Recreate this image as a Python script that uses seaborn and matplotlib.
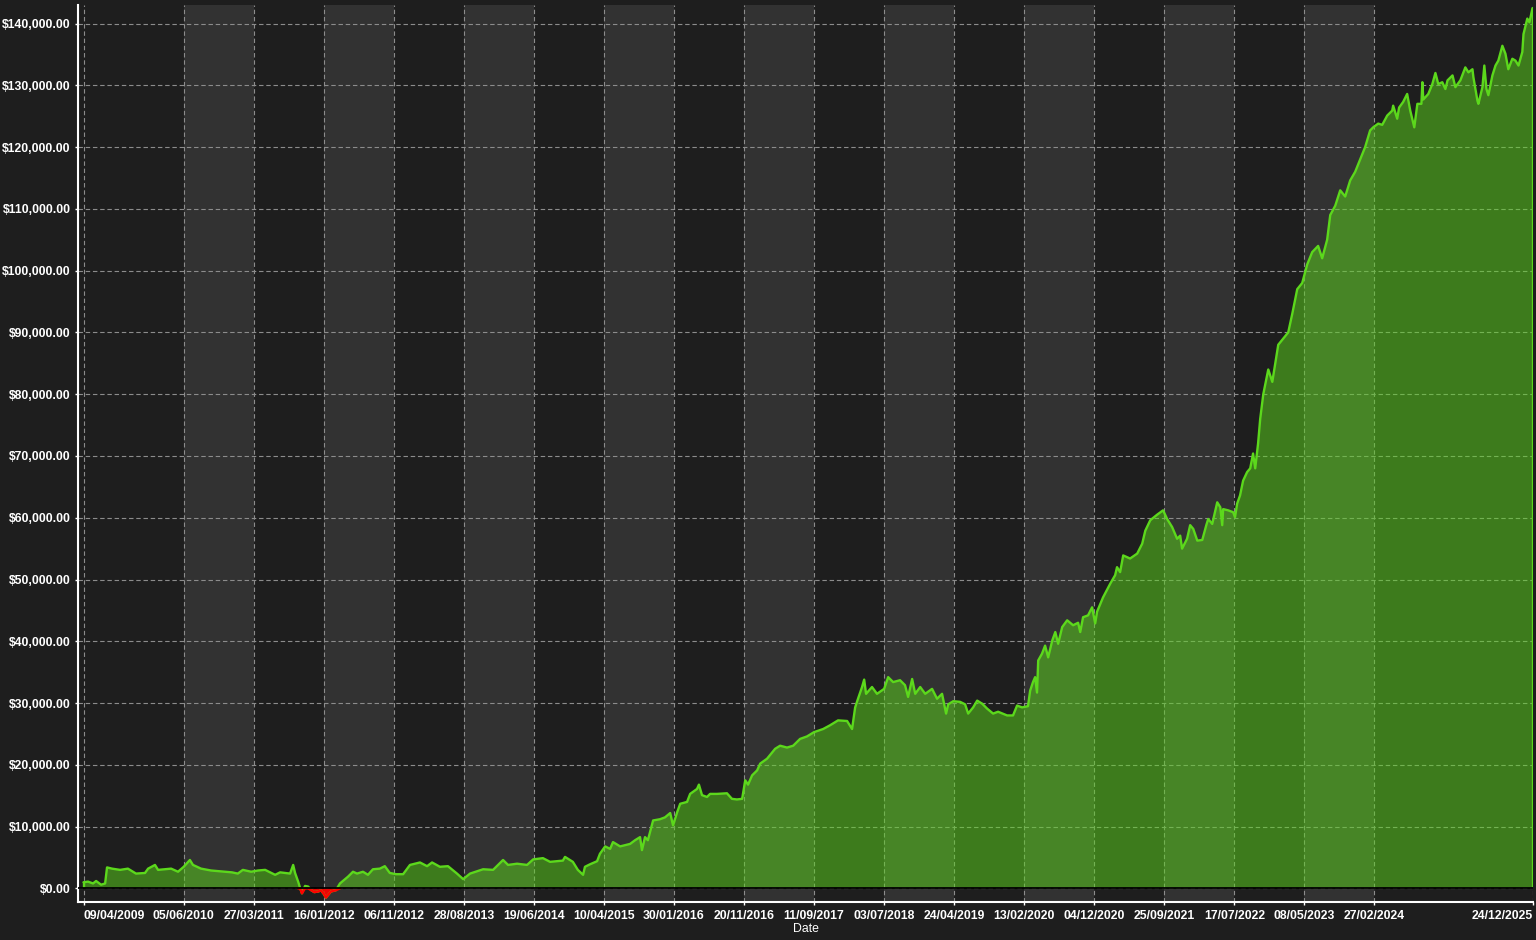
import numpy as np
import pandas as pd
import seaborn as sns
import matplotlib.pyplot as plt
import matplotlib.ticker as mticker

# equity curve, one line per year
dates = [
    "2009-04-09", "2009-04-28", "2009-05-19", "2009-06-01", "2009-06-22", "2009-07-09", "2009-07-17", "2009-08-07", "2009-09-10", "2009-10-13", "2009-11-16", "2009-12-24",
    "2010-01-06", "2010-02-04", "2010-02-17", "2010-03-18", "2010-04-13", "2010-05-12", "2010-06-05", "2010-07-01", "2010-07-14", "2010-08-17", "2010-09-28", "2010-10-27", "2010-11-25", "2010-12-25",
    "2011-01-19", "2011-02-09", "2011-03-16", "2011-04-14", "2011-05-14", "2011-06-04", "2011-06-25", "2011-07-16", "2011-08-06", "2011-08-27", "2011-09-09", "2011-09-17", "2011-09-30", "2011-10-08", "2011-10-16", "2011-10-29", "2011-11-11", "2011-11-24", "2011-12-07", "2011-12-24",
    "2012-01-04", "2012-01-16", "2012-01-25", "2012-02-15", "2012-03-07", "2012-03-24", "2012-04-27", "2012-05-18", "2012-06-04", "2012-06-29", "2012-07-20", "2012-08-10", "2012-09-08", "2012-09-29", "2012-10-20", "2012-11-15", "2012-12-15",
    "2013-01-13", "2013-02-24", "2013-03-26", "2013-04-16", "2013-05-19", "2013-06-22", "2013-07-30", "2013-08-25", "2013-09-23", "2013-11-17", "2013-12-29",
    "2014-02-09", "2014-03-02", "2014-04-09", "2014-05-21", "2014-06-16", "2014-07-27", "2014-08-26", "2014-10-19", "2014-10-28", "2014-11-30", "2014-12-21",
    "2015-01-12", "2015-01-20", "2015-02-10", "2015-03-12", "2015-03-24", "2015-04-15", "2015-05-06", "2015-05-18", "2015-06-17", "2015-07-29", "2015-08-19", "2015-09-09", "2015-09-17", "2015-09-30", "2015-10-12", "2015-11-03", "2015-12-02", "2015-12-23",
    "2016-01-14", "2016-01-26", "2016-02-12", "2016-02-25", "2016-03-25", "2016-04-07", "2016-05-06", "2016-05-14", "2016-05-27", "2016-06-17", "2016-06-30", "2016-07-29", "2016-09-09", "2016-09-30", "2016-10-21", "2016-11-12", "2016-11-25", "2016-12-07", "2016-12-24",
    "2017-01-14", "2017-01-27", "2017-02-25", "2017-03-31", "2017-04-21", "2017-05-20", "2017-06-15", "2017-07-14", "2017-08-12", "2017-09-11", "2017-10-19", "2017-11-17", "2017-12-21",
    "2018-01-28", "2018-02-18", "2018-03-03", "2018-03-15", "2018-04-01", "2018-04-10", "2018-04-18", "2018-05-13", "2018-06-03", "2018-07-03", "2018-07-20", "2018-08-10", "2018-09-08", "2018-09-29", "2018-10-12", "2018-10-29", "2018-11-11", "2018-12-02", "2018-12-23",
    "2019-01-21", "2019-02-11", "2019-03-04", "2019-03-21", "2019-03-30", "2019-04-20", "2019-05-19", "2019-06-09", "2019-06-22", "2019-07-13", "2019-07-30", "2019-08-20", "2019-09-10", "2019-10-05", "2019-10-26", "2019-12-03", "2019-12-28",
    "2020-01-14", "2020-02-04", "2020-02-29", "2020-03-09", "2020-03-21", "2020-03-30", "2020-04-07", "2020-04-12", "2020-04-28", "2020-05-11", "2020-05-24", "2020-06-10", "2020-06-23", "2020-07-05", "2020-07-22", "2020-08-12", "2020-09-06", "2020-09-27", "2020-10-06", "2020-10-18", "2020-11-08", "2020-11-25", "2020-12-08", "2020-12-16",
    "2021-01-10", "2021-02-09", "2021-03-02", "2021-03-10", "2021-03-23", "2021-04-05", "2021-05-04", "2021-06-03", "2021-06-24", "2021-07-07", "2021-07-28", "2021-08-26", "2021-09-20", "2021-10-07", "2021-10-28", "2021-11-18", "2021-12-01", "2021-12-09", "2021-12-30",
    "2022-01-12", "2022-01-25", "2022-02-11", "2022-03-04", "2022-03-21", "2022-03-29", "2022-04-15", "2022-05-06", "2022-05-19", "2022-05-27", "2022-05-31", "2022-06-21", "2022-07-12", "2022-07-20", "2022-07-29", "2022-08-10", "2022-08-23", "2022-09-09", "2022-09-22", "2022-10-04", "2022-10-13", "2022-10-25", "2022-11-03", "2022-11-16", "2022-12-07", "2022-12-24",
    "2023-01-18", "2023-02-08", "2023-03-01", "2023-03-18", "2023-04-08", "2023-04-29", "2023-05-20", "2023-06-10", "2023-07-05", "2023-07-22", "2023-08-12", "2023-08-25", "2023-09-15", "2023-10-06", "2023-10-27", "2023-11-17", "2023-12-08", "2023-12-29",
    "2024-01-19", "2024-02-09", "2024-02-22", "2024-03-14", "2024-03-31", "2024-04-21", "2024-05-12", "2024-05-16", "2024-06-02", "2024-06-10", "2024-06-27", "2024-07-14", "2024-07-27", "2024-08-13", "2024-08-26", "2024-09-12", "2024-09-16", "2024-09-20", "2024-10-11", "2024-10-28", "2024-11-10", "2024-11-22", "2024-12-09", "2024-12-22", "2024-12-31",
    "2025-01-21", "2025-02-02", "2025-02-23", "2025-03-16", "2025-03-29", "2025-04-15", "2025-04-19", "2025-05-06", "2025-05-10", "2025-05-27", "2025-06-04", "2025-06-13", "2025-06-21", "2025-07-08", "2025-07-21", "2025-08-02", "2025-08-19", "2025-09-01", "2025-09-13", "2025-09-30", "2025-10-13", "2025-10-26", "2025-11-11", "2025-11-16", "2025-12-02", "2025-12-11", "2025-12-24",
]
balance = [
    1000, 1100, 800, 1200, 600, 800, 3400, 3200, 3000, 3200, 2400, 2500,
    3200, 3800, 3000, 3100, 3200, 2700, 3500, 4600, 3800, 3200, 2900, 2800, 2700, 2600,
    2400, 3000, 2700, 2900, 3000, 2600, 2200, 2600, 2500, 2400, 3800, 2500, 1100, 100, -800, 400, 300, -300, -600, -500,
    -300, -900, -1500, -500, -300, 800, 1900, 2700, 2400, 2700, 2200, 3100, 3200, 3600, 2500, 2300, 2300,
    3800, 4200, 3600, 4200, 3500, 3600, 2400, 1500, 2400, 3100, 3000,
    4600, 3800, 4000, 3800, 4700, 4900, 4300, 4500, 5100, 4300, 3000,
    2200, 3500, 3900, 4400, 5600, 6800, 6400, 7500, 6800, 7200, 7800, 8300, 6200, 8300, 7800, 11000, 11200, 11500,
    12200, 10200, 12300, 13700, 14000, 15300, 16100, 16800, 15100, 14800, 15300, 15300, 15400, 14500, 14400, 14500, 17500, 16800, 18300,
    19100, 20200, 21000, 22600, 23100, 22800, 23100, 24200, 24600, 25300, 25800, 26400, 27200,
    27100, 25800, 29300, 30700, 32600, 33800, 31500, 32600, 31500, 32300, 34200, 33400, 33700, 32900, 31000, 33900, 31500, 32600, 31500,
    32300, 30700, 31500, 28300, 29800, 30300, 30200, 29800, 28300, 29300, 30400, 29900, 29100, 28300, 28600, 28000, 28000,
    29600, 29300, 29500, 32000, 33400, 34200, 31700, 36900, 38000, 39300, 37400, 40100, 41500, 39600, 42300, 43400, 42600, 43000, 41500, 43900, 44200, 45500, 42900, 44800,
    47100, 49300, 50700, 52000, 51200, 53900, 53400, 54200, 55800, 57900, 59600, 60500, 61200, 59800, 58500, 56600, 57100, 55000, 56600,
    58800, 58200, 56300, 56400, 58800, 59800, 59000, 62500, 61700, 58800, 61400, 61200, 60900, 60100, 62300, 63600, 66000, 67400, 68000, 70400, 68000, 72000, 76000, 80000, 84000, 82000,
    88000, 89000, 90000, 93000, 97000, 98000, 101000, 103000, 104000, 102000, 105000, 109000, 110500, 113000, 112000, 114600, 116000, 118000,
    120000, 122700, 123200, 123800, 123600, 125100, 125900, 126700, 124600, 126400, 127300, 128600, 125900, 123200, 127000, 127000, 130500, 127700, 128600, 130200, 132000, 130200, 130500, 129400, 130800,
    131600, 129700, 130800, 132900, 132100, 132600, 131300, 127500, 127000, 129700, 133200, 129400, 128400, 131600, 133200, 134000, 136400, 135100, 132600, 134300, 134000, 133200, 135400, 138300, 140800, 140200, 142500,
]

tick_dates = ["2009-04-09", "2010-06-05", "2011-03-27", "2012-01-16", "2012-11-06", "2013-08-28",
              "2014-06-19", "2015-04-10", "2016-01-30", "2016-11-20", "2017-09-11", "2018-07-03",
              "2019-04-24", "2020-02-13", "2020-12-04", "2021-09-25", "2022-07-17", "2023-05-08",
              "2024-02-27", "2025-12-24"]

df = pd.DataFrame({"Date": pd.to_datetime(dates), "Balance": balance})
ticks = pd.to_datetime(tick_dates)

bg = "#1e1e1e"
band = "#323232"
green = "#5cd81c"

sns.set_theme(style="dark", rc={"axes.facecolor": bg, "figure.facecolor": bg,
                                "axes.edgecolor": "white", "text.color": "white",
                                "xtick.color": "white", "ytick.color": "white"})
plt.rcParams["font.family"] = ["Liberation Sans", "DejaVu Sans"]

fig = plt.figure(figsize=(15.36, 9.4), dpi=100)
ax = fig.add_axes([78.3 / 1536, 1 - 902 / 940, (1533 - 78.3) / 1536, (902 - 5) / 940])

# alternating shaded bands between the date ticks
for i in range(1, len(ticks) - 2, 2):
    ax.axvspan(ticks[i], ticks[i + 1], color=band, zorder=0, lw=0)

x = df["Date"]
y = df["Balance"].to_numpy()
ax.fill_between(x, y, 0, where=y >= 0, interpolate=True, color=green, alpha=0.5, lw=0, zorder=1)
ax.fill_between(x, y, 0, where=y <= 0, interpolate=True, color="#ff0000", alpha=0.9, lw=0, zorder=1)

sns.lineplot(data=df, x="Date", y="Balance", color=green, linewidth=1.7, ax=ax, zorder=2)
neg = (x >= "2011-09-20") & (x <= "2012-03-24")
ax.plot(x[neg], np.minimum(y[neg], 0), color="#ff0000", lw=1.7, zorder=2.5)
ax.vlines([x.iloc[0], x.iloc[-1]], 0, [y[0], y[-1]], color=green, lw=1.7, zorder=2)

ax.axhline(0, color="black", lw=1.3, zorder=3)

ax.set_xlim(pd.Timestamp("2009-03-18"), pd.Timestamp("2025-12-26"))
ax.set_ylim(-2200, 143000)
ax.yaxis.set_major_locator(mticker.MultipleLocator(10000))
ax.yaxis.set_major_formatter(mticker.FuncFormatter(lambda v, p: "${:,.2f}".format(v)))
ax.set_xticks(ticks)
ax.set_xticklabels([t.strftime("%d/%m/%Y") for t in ticks])
xlabels = ax.get_xticklabels()
xlabels[0].set_horizontalalignment("left")
xlabels[-1].set_horizontalalignment("right")

ax.grid(True, color="#8c8c8c", linestyle=(0, (4, 2.5)), linewidth=0.8)
ax.tick_params(axis="both", which="both", length=2.5, width=1, colors="white",
               labelsize=8.8, pad=3, bottom=True, left=True)
for lab in ax.get_xticklabels() + ax.get_yticklabels():
    lab.set_fontweight("bold")

for side in ["top", "right"]:
    ax.spines[side].set_visible(False)
for side in ["left", "bottom"]:
    ax.spines[side].set_color("white")
    ax.spines[side].set_linewidth(1.5)

ax.set_xlabel("Date", color="white", fontsize=8.8, labelpad=1)
ax.set_ylabel("")

fig.savefig("out.png", dpi=100, facecolor=bg)
